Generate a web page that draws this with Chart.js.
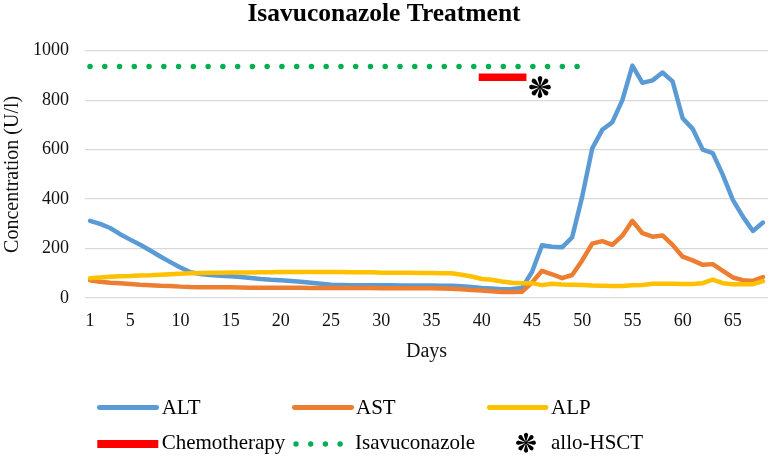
<!DOCTYPE html>
<html><head><meta charset="utf-8">
<script src="https://cdn.jsdelivr.net/npm/chart.js@4.4.1/dist/chart.umd.min.js"></script>
<style>html,body{margin:0;padding:0;background:#fff;}#wrap{width:772px;height:458px;}</style>
</head><body><div id="wrap"><canvas id="c" width="772" height="458"></canvas></div>
<script>
// ---- data ----
const days = [1,2,3,4,5,6,7,8,9,10,11,12,13,14,15,16,17,18,19,20,21,22,23,24,25,26,27,28,29,30,31,32,33,34,35,36,37,38,39,40,41,42,43,44,45,46,47,48,49,50,51,52,53,54,55,56,57,58,59,60,61,62,63,64,65,66,67,68];
const altValues = [312,300,283,258,236,215,192,168,145,123,104,97,93,90,88,85,81,77,74,72,69,66,62,58,54,53,52,52,52,52,52,51,51,51,51,50,50,48,45,40,38,35,36,40,105,213,207,205,245,410,605,680,711,800,940,870,880,912,876,727,684,600,586,498,397,329,271,305];
const astValues = [72,66,62,60,57,54,52,50,49,46,44,43,43,43,43,42,41,41,41,41,41,41,40,40,40,40,40,40,40,39,39,39,39,39,39,38,37,35,32,30,27,24,24,25,62,110,96,80,93,152,220,230,215,252,312,262,248,253,215,167,152,134,137,110,83,72,69,85];
const alpValues = [80,83,86,88,89,91,92,94,96,98,100,101,102,102,103,103,103,104,104,105,105,105,105,105,105,105,104,104,104,102,102,102,102,101,101,100,100,94,87,77,74,67,62,60,60,52,58,55,54,53,51,50,49,49,52,53,58,58,58,57,57,60,74,60,56,56,56,68];
const xTickLabels = [1,5,10,15,20,25,30,35,40,45,50,55,60,65];
const yTickLabels = [0,200,400,600,800,1000];
const isavuconazoleDays = [1, 49.5];
const isavuconazoleLevel = 936;
const chemotherapyDays = [39.7, 44.45];
const chemotherapyLevel = 893;
const hsctDay = 45.8;
const hsctLevel = 853;

const seriesNames = ['ALT','AST','ALP','Chemotherapy','Isavuconazole','allo-HSCT'];
const colors = {ALT:'#5b9bd5', AST:'#ed7d31', ALP:'#ffc000', Chemotherapy:'#ff0000', Isavuconazole:'#00b050', HSCT:'#000000'};
const serif = "'Liberation Serif','Times New Roman',serif";

function drawAsterisk(g, cx, cy, R) {
  const d = 0.78 * R, r = 0.21 * R, th = Math.asin(r / d);
  g.fillStyle = '#000';
  for (let k = 0; k < 8; k++) {
    g.save(); g.translate(cx, cy); g.rotate(k * Math.PI / 4);
    g.beginPath(); g.moveTo(0, 0); g.arc(0, -d, r, Math.PI - th, 2 * Math.PI + th); g.closePath(); g.fill();
    g.restore();
  }
  g.beginPath(); g.arc(cx, cy, 0.15 * R, 0, 2 * Math.PI); g.fill();
}
function makeAsterisk(R) {
  const size = Math.ceil(2 * R + 2);
  const cv = document.createElement('canvas'); cv.width = size; cv.height = size;
  drawAsterisk(cv.getContext('2d'), size / 2, size / 2, R);
  return cv;
}
const asteriskImg = makeAsterisk(11);

const pts = (vals) => days.map((d, i) => ({x: d, y: vals[i]}));

const legendPlugin = {
  id: 'customLegend',
  afterDraw(chart) {
    const ctx = chart.ctx;
    ctx.save();
    const row1 = 407.5, row2 = 444;
    const text = (t, x, y) => {
      ctx.font = '21px ' + serif; ctx.fillStyle = '#000'; ctx.textBaseline = 'middle'; ctx.textAlign = 'left';
      ctx.fillText(t, x, y);
    };
    const line = [[99.3, 156.7, colors.ALT, seriesNames[0], 161.7], [294.3, 351.7, colors.AST, seriesNames[1], 356], [489.3, 546, colors.ALP, seriesNames[2], 551]];
    line.forEach(([a, b, c, t, tx]) => {
      ctx.beginPath(); ctx.strokeStyle = c; ctx.lineWidth = 4.8; ctx.lineCap = 'round';
      ctx.moveTo(a, row1); ctx.lineTo(b, row1); ctx.stroke();
      text(t, tx, row1 + 0.5);
    });
    ctx.beginPath(); ctx.strokeStyle = colors.Chemotherapy; ctx.lineWidth = 8; ctx.lineCap = 'butt';
    ctx.moveTo(97.3, row2); ctx.lineTo(158.3, row2); ctx.stroke();
    text(seriesNames[3], 161.7, row2 - 0.5);
    ctx.fillStyle = colors.Isavuconazole;
    for (let k = 0; k < 4; k++) { ctx.beginPath(); ctx.arc(296 + k * 14.7, row2, 2.7, 0, 2 * Math.PI); ctx.fill(); }
    text(seriesNames[4], 355, row2 - 0.5);
    drawAsterisk(ctx, 526, row2 - 1.3, 10);
    text(seriesNames[5], 551, row2 - 0.5);
    ctx.restore();
  }
};

new Chart(document.getElementById('c'), {
  type: 'line',
  data: {
    datasets: [
      {label: 'allo-HSCT', data: [{x: hsctDay, y: hsctLevel}], showLine: false, pointStyle: asteriskImg, pointRadius: 11, pointHoverRadius: 11},
      {label: 'Chemotherapy', data: chemotherapyDays.map(d => ({x: d, y: chemotherapyLevel})), borderColor: colors.Chemotherapy, borderWidth: 7.5, borderCapStyle: 'butt', pointRadius: 0},
      {label: 'Isavuconazole', data: isavuconazoleDays.map(d => ({x: d, y: isavuconazoleLevel})), borderColor: colors.Isavuconazole, borderWidth: 5.5, borderDash: [0.01, 14.75], borderCapStyle: 'round', pointRadius: 0},
      {label: 'ALP', data: pts(alpValues), borderColor: colors.ALP, borderWidth: 4.5, borderCapStyle: 'round', borderJoinStyle: 'round', pointRadius: 0, tension: 0},
      {label: 'AST', data: pts(astValues), borderColor: colors.AST, borderWidth: 4.5, borderCapStyle: 'round', borderJoinStyle: 'round', pointRadius: 0, tension: 0},
      {label: 'ALT', data: pts(altValues), borderColor: colors.ALT, borderWidth: 4.5, borderCapStyle: 'round', borderJoinStyle: 'round', pointRadius: 0, tension: 0}
    ]
  },
  options: {
    responsive: false,
    animation: false,
    devicePixelRatio: 1,
    layout: {autoPadding: false, padding: {left: 0, right: 4, top: 0, bottom: 90}},
    plugins: {
      legend: {display: false},
      tooltip: {enabled: false},
      title: {display: true, text: 'Isavuconazole Treatment', color: '#000',
        font: {family: serif, size: 25.5, weight: 'bold', lineHeight: 1}, padding: {top: 2, bottom: 23.2}}
    },
    scales: {
      x: {
        type: 'linear', min: 0.5, max: 68.5,
        afterBuildTicks: (ax) => { ax.ticks = xTickLabels.map(v => ({value: v})); },
        afterFit: (ax) => { ax.height = 70; ax.paddingLeft = 0; ax.paddingRight = 0; },
        grid: {display: false, drawTicks: false},
        border: {display: false},
        ticks: {color: '#111', font: {family: serif, size: 18}, padding: 12, maxRotation: 0, autoSkip: false, callback: (v) => String(v)},
        title: {display: true, text: 'Days', color: '#111', font: {family: serif, size: 20}, padding: {top: 0, bottom: 4}}
      },
      y: {
        min: 0, max: 1000,
        afterBuildTicks: (ax) => { ax.ticks = yTickLabels.map(v => ({value: v})); },
        afterFit: (ax) => { ax.width = 85; },
        grid: {color: '#d9d9d9', lineWidth: 1.2, drawTicks: false},
        border: {display: false},
        ticks: {color: '#111', font: {family: serif, size: 18}, padding: 16, callback: (v) => String(v)},
        title: {display: true, text: 'Concentration (U/l)', color: '#111', font: {family: serif, size: 20}, padding: {top: 1, bottom: 0}}
      }
    }
  },
  plugins: [legendPlugin]
});
</script></body></html>
